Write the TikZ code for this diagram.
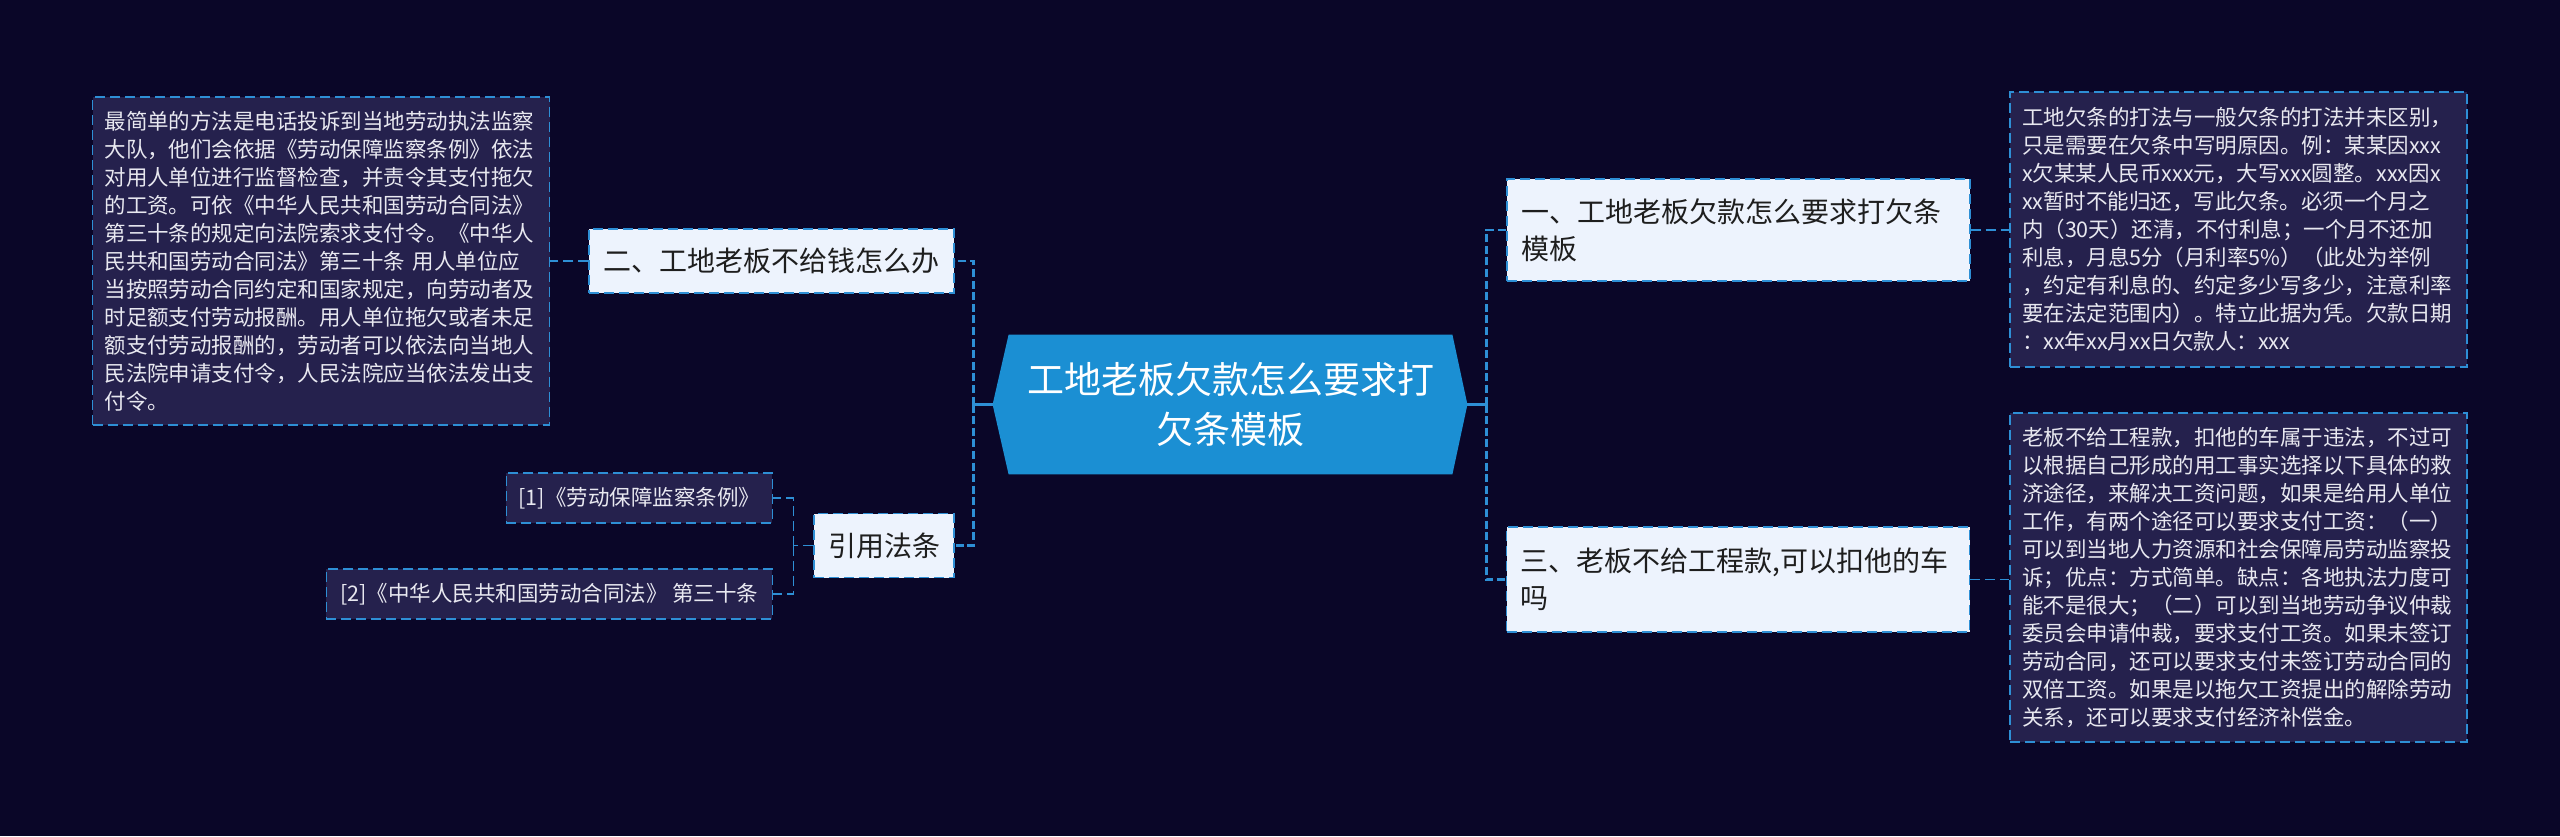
\documentclass[tikz,border=0pt]{standalone}
\usepackage{fontspec}
\setmainfont{Noto Sans CJK SC}
\usepackage{xcolor}
\usetikzlibrary{backgrounds}
\definecolor{bgnavy}{HTML}{0A0628}
\definecolor{rootblue}{HTML}{1B8FD3}
\definecolor{linkblue}{HTML}{2E8FD5}
\definecolor{topicfill}{HTML}{EDF3FD}
\definecolor{topictext}{HTML}{1E1E1E}
\definecolor{notefill}{HTML}{25214D}
\definecolor{notetext}{HTML}{E8E8F0}

\begin{document}
\begin{tikzpicture}[
  x=0.5pt, y=-0.5pt,
  root/.style={minimum width=221.5pt, minimum height=69.5pt, align=center, text=white, font=\fontsize{18.5pt}{25pt}\selectfont},
  topic/.style={draw=linkblue, line width=0.7pt, dash pattern=on 5pt off 2.5pt, fill=topicfill, text=topictext, minimum height=32pt, align=left, font=\fontsize{14pt}{18.5pt}\selectfont},
  note/.style={draw=linkblue, line width=0.7pt, dash pattern=on 5pt off 2.5pt, fill=notefill, text=notetext, text width=216.5pt, inner xsep=6pt, align=left, font=\fontsize{10.75pt}{14pt}\selectfont},
  leaf/.style={draw=linkblue, line width=0.7pt, dash pattern=on 5pt off 2.5pt, fill=notefill, text=notetext, minimum height=25pt, anchor=east, font=\fontsize{10.75pt}{14pt}\selectfont},
  stub/.style={draw=linkblue, line width=1.3pt},
  trunk/.style={draw=linkblue, line width=1.3pt, dash pattern=on 4pt off 1.8pt},
  link/.style={draw=linkblue, line width=0.7pt, dash pattern=on 5pt off 2.5pt}
]
\useasboundingbox (0,0) rectangle (2560,836);

\node[root] (root) at (1230.5,404.5) {工地老板欠款怎么要求打\\欠条模板};

\node[topic, minimum width=182.5pt] (t2) at (771.5,261) {二、工地老板不给钱怎么办};
\node[topic, minimum width=70pt] (cite) at (884,545.5) {引用法条};
\node[topic, text width=217.5pt, inner xsep=7pt, minimum height=51pt] (t1) at (1738.5,230) {一、工地老板欠款怎么要求打欠条\\模板};
\node[topic, text width=217.5pt, inner xsep=7pt, minimum height=52.5pt] (t3) at (1738,579.5) {三、老板不给工程款,可以扣他的车\\吗};

\node[note, minimum height=164pt] (lnote) at (321,261) {最简单的方法是电话投诉到当地劳动执法监察\\
大队，他们会依据《劳动保障监察条例》依法\\
对用人单位进行监督检查，并责令其支付拖欠\\
的工资。可依《中华人民共和国劳动合同法》\\
第三十条的规定向法院索求支付令。《中华人\\
民共和国劳动合同法》第三十条 用人单位应\\
当按照劳动合同约定和国家规定，向劳动者及\\
时足额支付劳动报酬。用人单位拖欠或者未足\\
额支付劳动报酬的，劳动者可以依法向当地人\\
民法院申请支付令，人民法院应当依法发出支\\
付令。};
\node[note, minimum height=137.5pt] (rnote1) at (2238.5,229.5) {工地欠条的打法与一般欠条的打法并未区别，\\
只是需要在欠条中写明原因。例：某某因xxx\\
x欠某某人民币xxx元，大写xxx圆整。xxx因x\\
xx暂时不能归还，写此欠条。必须一个月之\\
内（30天）还清，不付利息；一个月不还加\\
利息，月息5分（月利率5\%）（此处为举例\\
，约定有利息的、约定多少写多少，注意利率\\
要在法定范围内）。特立此据为凭。欠款日期\\
：xx年xx月xx日欠款人：xxx};
\node[note, minimum height=164.5pt] (rnote2) at (2238.5,577.5) {老板不给工程款，扣他的车属于违法，不过可\\
以根据自己形成的用工事实选择以下具体的救\\
济途径，来解决工资问题，如果是给用人单位\\
工作，有两个途径可以要求支付工资：（一）\\
可以到当地人力资源和社会保障局劳动监察投\\
诉；优点：方式简单。缺点：各地执法力度可\\
能不是很大；（二）可以到当地劳动争议仲裁\\
委员会申请仲裁，要求支付工资。如果未签订\\
劳动合同，还可以要求支付未签订劳动合同的\\
双倍工资。如果是以拖欠工资提出的解除劳动\\
关系，还可以要求支付经济补偿金。};

\node[leaf, minimum width=133pt] (leaf1) at (773,498) {[1]《劳动保障监察条例》};
\node[leaf, minimum width=223pt] (leaf2) at (773,594) {[2]《中华人民共和国劳动合同法》 第三十条};

\draw[stub] (root.west) ++(-16,0) -- ++(-19,0) coordinate (jl);
\draw[stub] (root.east) ++(15,0) -- ++(19,0) coordinate (jr);
\draw[trunk] (jl) |- (t2.east); \draw[trunk] (jl) |- (cite.east);
\draw[trunk] (jr) |- (t1.west); \draw[trunk] (jr) |- (t3.west);
\draw[link] (t2.west) -- (t2.west -| lnote.east);
\draw[link] (t1.east) -- (t1.east -| rnote1.west);
\draw[link] (t3.east) -- (t3.east -| rnote2.west);
\draw[link] (cite.west) -- ++(-20,0) coordinate (jc);
\draw[link] (jc) |- (leaf1.east); \draw[link] (jc) |- (leaf2.east);

\begin{scope}[on background layer]
\fill[bgnavy] (0,0) rectangle (2560,836);
\fill[rootblue] ([xshift=-8pt]root.west) -- (root.north west) -- (root.north east) -- ([xshift=7.5pt]root.east) -- (root.south east) -- (root.south west) -- cycle;
\end{scope}
\end{tikzpicture}
\end{document}
